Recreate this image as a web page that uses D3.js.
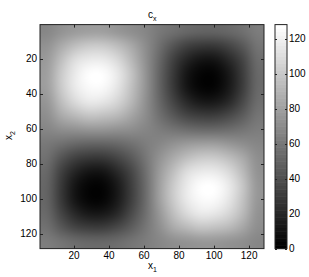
<!DOCTYPE html>
<html>
<head>
<meta charset="utf-8">
<script src="https://cdn.jsdelivr.net/npm/d3@7"></script>
<style>
body { margin: 0; background: #fff; }
text { font-family: "Liberation Sans", Arial, sans-serif; fill: #000; }
</style>
</head>
<body>
<svg width="309" height="277"></svg>
<script>
// cell centres of the 16x16 sample grid (image units 1..128)
var gridX = d3.range(16).map(function(k) { return 8 * k + 4.5; });
var gridY = d3.range(16).map(function(k) { return 8 * k + 4.5; });

// c_x values, row by row (top to bottom)
var cxRows = [
    [67,72,76,78,78,75,71,66, 61,56,52,50,50,53,57,62],
    [72,85,95,100,100,94,84,70, 56,43,33,28,28,34,44,58],
    [76,95,110,117,117,108,93,73, 52,33,18,11,11,20,35,55],
    [78,100,117,126,126,116,98,75, 50,28,11,2,2,12,30,53],
    [78,100,117,125,125,115,97,75, 50,28,11,3,3,13,31,53],
    [75,94,108,116,115,107,92,73, 53,34,20,12,13,21,36,55],
    [71,84,93,98,97,92,82,70, 57,44,35,30,31,36,46,58],
    [66,70,73,75,75,73,70,66, 62,58,55,53,53,55,58,62],
    [61,56,52,50,50,53,57,62, 67,72,76,78,78,75,71,66],
    [56,43,33,28,28,34,44,58, 72,85,95,100,100,94,84,70],
    [52,33,18,11,11,20,35,55, 76,95,110,117,117,108,93,73],
    [50,28,11,2,2,12,30,53, 78,100,117,126,126,116,98,75],
    [50,28,11,3,3,13,31,53, 78,100,117,125,125,115,97,75],
    [53,34,20,12,13,21,36,55, 75,94,108,116,115,107,92,73],
    [57,44,35,30,31,36,46,58, 71,84,93,98,97,92,82,70],
    [62,58,55,53,53,55,58,62, 66,70,73,75,75,73,70,66]
];

var axisTicks = [20, 40, 60, 80, 100, 120];
var colorbarTicks = [0, 20, 40, 60, 80, 100, 120];
var cRange = [0, 128];

var svg = d3.select('svg');

// layout
var plot = {l: 40, t: 24.6, w: 224, h: 224};
var cbar = {l: 275, w: 12};

var xScale = d3.scaleLinear().domain([0.5, 128.5]).range([plot.l, plot.l + plot.w]);
var yScale = d3.scaleLinear().domain([0.5, 128.5]).range([plot.t, plot.t + plot.h]);
var cbScale = d3.scaleLinear().domain(cRange).range([plot.t + plot.h, plot.t]);

// matlab gray(64)
var grays = d3.range(64).map(function(k) {
    var g = Math.round(255 * k / 63);
    return d3.rgb(g, g, g).toString();
});
var color = d3.scaleQuantize().domain(cRange).range(grays);

// paint grid into a small canvas and let the browser smooth it
var cv = document.createElement('canvas');
cv.width = gridX.length;
cv.height = gridY.length;
var ctx = cv.getContext('2d');
cxRows.forEach(function(row, j) {
    row.forEach(function(v, i) {
        ctx.fillStyle = color(v);
        ctx.fillRect(i, j, 1, 1);
    });
});

// upscale with bilinear smoothing onto a bigger canvas
var big = document.createElement('canvas');
big.width = plot.w;
big.height = plot.h;
var bctx = big.getContext('2d');
bctx.imageSmoothingEnabled = true;
bctx.imageSmoothingQuality = 'high';
bctx.drawImage(cv, 0, 0, big.width, big.height);

svg.append('image')
    .attr('x', xScale(0.5))
    .attr('y', yScale(0.5))
    .attr('width', xScale(128.5) - xScale(0.5))
    .attr('height', yScale(128.5) - yScale(0.5))
    .attr('preserveAspectRatio', 'none')
    .attr('href', big.toDataURL());

// axes, ticks pointing inward like matlab
var tickLen = 3;
var axes = svg.append('g').attr('stroke', '#222').attr('stroke-width', 1);

axes.append('rect')
    .attr('x', xScale(0.5))
    .attr('y', yScale(0.5))
    .attr('width', plot.w)
    .attr('height', plot.h)
    .attr('fill', 'none');

axisTicks.forEach(function(t) {
    var x = Math.round(xScale(t)) + 0.5;
    var y = Math.round(yScale(t)) + 0.5;
    axes.append('line').attr('x1', x).attr('x2', x)
        .attr('y1', plot.t + plot.h).attr('y2', plot.t + plot.h - tickLen);
    axes.append('line').attr('x1', x).attr('x2', x)
        .attr('y1', plot.t).attr('y2', plot.t + tickLen);
    axes.append('line').attr('y1', y).attr('y2', y)
        .attr('x1', plot.l).attr('x2', plot.l + tickLen);
    axes.append('line').attr('y1', y).attr('y2', y)
        .attr('x1', plot.l + plot.w).attr('x2', plot.l + plot.w - tickLen);
});

svg.selectAll('.xlab')
    .data(axisTicks)
    .enter().append('text')
    .attr('class', 'xlab')
    .attr('x', function(d) { return xScale(d); })
    .attr('y', 259)
    .attr('text-anchor', 'middle')
    .attr('font-size', 10)
    .text(function(d) { return d; });

svg.selectAll('.ylab')
    .data(axisTicks)
    .enter().append('text')
    .attr('class', 'ylab')
    .attr('x', 37)
    .attr('y', function(d) { return yScale(d) + 3.5; })
    .attr('text-anchor', 'end')
    .attr('font-size', 10)
    .text(function(d) { return d; });

// colorbar
var cb = svg.append('g');
cb.selectAll('rect.lvl')
    .data(grays)
    .enter().append('rect')
    .attr('class', 'lvl')
    .attr('x', cbar.l)
    .attr('width', cbar.w)
    .attr('y', function(d, k) { return cbScale((k + 1) * 2); })
    .attr('height', function(d, k) { return cbScale(k * 2) - cbScale((k + 1) * 2) + 0.5; })
    .attr('fill', function(d) { return d; });

cb.append('rect')
    .attr('x', cbar.l)
    .attr('y', cbScale(128))
    .attr('width', cbar.w)
    .attr('height', cbScale(0) - cbScale(128))
    .attr('fill', 'none')
    .attr('stroke', '#222');

colorbarTicks.forEach(function(t) {
    var y = Math.round(cbScale(t)) + 0.5;
    cb.append('line').attr('y1', y).attr('y2', y)
        .attr('x1', cbar.l).attr('x2', cbar.l + 2).attr('stroke', '#222');
    cb.append('line').attr('y1', y).attr('y2', y)
        .attr('x1', cbar.l + cbar.w).attr('x2', cbar.l + cbar.w - 2).attr('stroke', '#222');
});

cb.selectAll('.cblab')
    .data(colorbarTicks)
    .enter().append('text')
    .attr('class', 'cblab')
    .attr('x', cbar.l + cbar.w + 2)
    .attr('y', function(d) { return cbScale(d) + 3.5; })
    .attr('font-size', 10)
    .text(function(d) { return d; });

// title and axis labels
var title = svg.append('text')
    .attr('x', 148)
    .attr('y', 18)
    .attr('font-size', 10);
title.append('tspan').text('c');
title.append('tspan').attr('dy', 3).attr('font-size', 7).text('x');

var xl = svg.append('text')
    .attr('x', 148)
    .attr('y', 269)
    .attr('font-size', 10);
xl.append('tspan').text('x');
xl.append('tspan').attr('dy', 3).attr('font-size', 7).text('1');

var yl = svg.append('text')
    .attr('transform', 'translate(12,140) rotate(-90)')
    .attr('font-size', 10);
yl.append('tspan').text('x');
yl.append('tspan').attr('dy', 3).attr('font-size', 7).text('2');
</script>
</body>
</html>
